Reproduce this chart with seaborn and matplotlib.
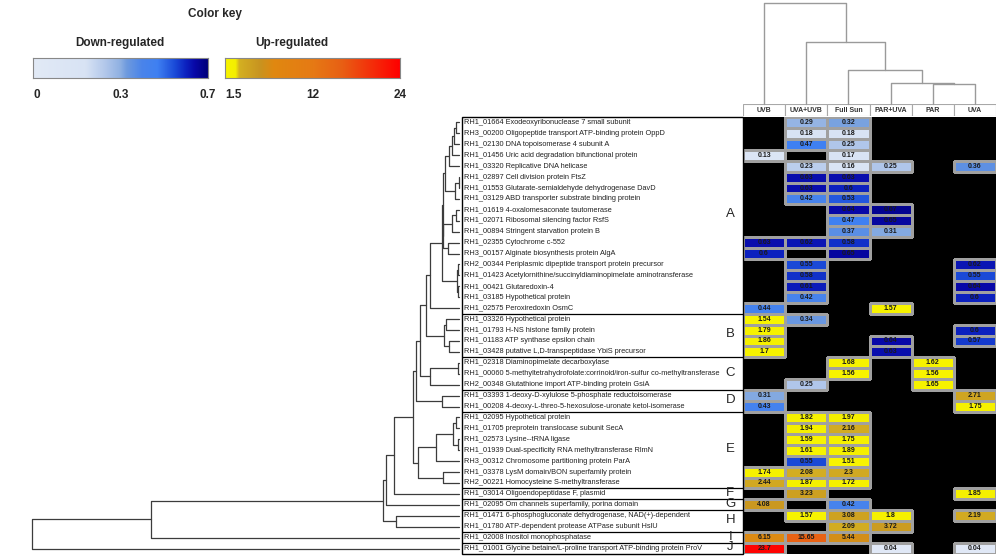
import numpy as np
import seaborn as sns
import matplotlib.pyplot as plt
from matplotlib.colors import LinearSegmentedColormap, to_rgba
from matplotlib.patches import Rectangle

nan = np.nan

conditions = ['UVB', 'UVA+UVB', 'Full Sun', 'PAR+UVA', 'PAR', 'UVA']

genes = [
    'RH1_01664 Exodeoxyribonuclease 7 small subunit',
    'RH3_00200 Oligopeptide transport ATP-binding protein OppD',
    'RH1_02130 DNA topoisomerase 4 subunit A',
    'RH1_01456 Uric acid degradation bifunctional protein',
    'RH1_03320 Replicative DNA helicase',
    'RH1_02897 Cell division protein FtsZ',
    'RH1_01553 Glutarate-semialdehyde dehydrogenase DavD',
    'RH1_03129 ABD transporter substrate binding protein',
    'RH1_01619 4-oxalomesaconate tautomerase',
    'RH1_02071 Ribosomal silencing factor RsfS',
    'RH1_00894 Stringent starvation protein B',
    'RH1_02355 Cytochrome c-552',
    'RH3_00157 Alginate biosynthesis protein AlgA',
    'RH2_00344 Periplasmic dipeptide transport protein precursor',
    'RH1_01423 Acetylornithine/succinyldiaminopimelate aminotransferase',
    'RH1_00421 Glutaredoxin-4',
    'RH1_03185 Hypothetical protein',
    'RH1_02575 Peroxiredoxin OsmC',
    'RH1_03326 Hypothetical protein',
    'RH1_01793 H-NS histone family protein',
    'RH1_01183 ATP synthase epsilon chain',
    'RH1_03428 putative L,D-transpeptidase YbiS precursor',
    'RH1_02318 Diaminopimelate decarboxylase',
    'RH1_00060 5-methyltetrahydrofolate:corrinoid/iron-sulfur co-methyltransferase',
    'RH2_00348 Glutathione import ATP-binding protein GsiA',
    'RH1_03393 1-deoxy-D-xylulose 5-phosphate reductoisomerase',
    'RH1_00208 4-deoxy-L-threo-5-hexosulose-uronate ketol-isomerase',
    'RH1_02095 Hypothetical protein',
    'RH1_01705 preprotein translocase subunit SecA',
    'RH1_02573 Lysine--tRNA ligase',
    'RH1_01939 Dual-specificity RNA methyltransferase RlmN',
    'RH3_00312 Chromosome partitioning protein ParA',
    'RH1_03378 LysM domain/BON superfamily protein',
    'RH2_00221 Homocysteine S-methyltransferase',
    'RH1_03014 Oligoendopeptidase F, plasmid',
    'RH1_02095 Om channels superfamily, porina domain',
    'RH1_01471 6-phosphogluconate dehydrogenase, NAD(+)-dependent',
    'RH1_01780 ATP-dependent protease ATPase subunit HslU',
    'RH1_02008 Inositol monophosphatase',
    'RH1_01001 Glycine betaine/L-proline transport ATP-binding protein ProV',
]

group_names = ['A', 'B', 'C', 'D', 'E', 'F', 'G', 'H', 'I', 'J']
group_sizes = [18, 4, 3, 2, 7, 1, 1, 2, 1, 1]

# fold change per condition, one entry per gene row (nan = not significant)
uvb = [nan, nan, nan, 0.13, nan, nan, nan, nan, nan, nan,
       nan, 0.63, 0.6, nan, nan, nan, nan, 0.44, 1.54, 1.79,
       1.86, 1.7, nan, nan, nan, 0.31, 0.43, nan, nan, nan,
       nan, nan, 1.74, 2.44, nan, 4.08, nan, nan, 6.15, 23.7]
uva_uvb = [0.29, 0.18, 0.47, nan, 0.23, 0.63, 0.63, 0.42, nan, nan,
           nan, 0.62, nan, 0.55, 0.58, 0.61, 0.42, nan, 0.34, nan,
           nan, nan, nan, nan, 0.25, nan, nan, 1.82, 1.94, 1.59,
           1.61, 0.55, 2.08, 1.87, 3.23, nan, 1.57, nan, 15.65, nan]
full_sun = [0.32, 0.18, 0.25, 0.17, 0.16, 0.63, 0.6, 0.53, 0.64, 0.47,
            0.37, 0.58, 0.65, nan, nan, nan, nan, nan, nan, nan,
            nan, nan, 1.68, 1.56, nan, nan, nan, 1.97, 2.16, 1.75,
            1.89, 1.51, 2.3, 1.72, nan, 0.42, 3.08, 2.09, 5.44, nan]
par_uva = [nan, nan, nan, nan, 0.25, nan, nan, nan, 0.67, 0.65,
           0.31, nan, nan, nan, nan, nan, nan, 1.57, nan, nan,
           0.64, 0.63, nan, nan, nan, nan, nan, nan, nan, nan,
           nan, nan, nan, nan, nan, nan, 1.8, 3.72, nan, 0.04]
par = [nan, nan, nan, nan, nan, nan, nan, nan, nan, nan,
       nan, nan, nan, nan, nan, nan, nan, nan, nan, nan,
       nan, nan, 1.62, 1.56, 1.65, nan, nan, nan, nan, nan,
       nan, nan, nan, nan, nan, nan, nan, nan, nan, nan]
uva = [nan, nan, nan, nan, 0.36, nan, nan, nan, nan, nan,
       nan, nan, nan, 0.62, 0.55, 0.64, 0.6, nan, nan, 0.6,
       0.57, nan, nan, nan, nan, 2.71, 1.75, nan, nan, nan,
       nan, nan, nan, nan, 1.85, nan, 2.19, nan, nan, 0.04]

# row dendrogram as (cluster a, cluster b, distance); leaves 0..39, merged clusters get ids from 40 on
row_linkage = [
    (0, 1, 0.03), (40, 2, 0.055), (41, 3, 0.08), (42, 4, 0.11),
    (5, 6, 0.005), (44, 7, 0.045), (43, 45, 0.15),
    (8, 9, 0.03), (47, 10, 0.08), (11, 12, 0.12), (48, 49, 0.17), (46, 50, 0.18),
    (13, 14, 0.01), (15, 16, 0.012), (52, 53, 0.02), (51, 54, 0.19), (55, 17, 0.32),
    (18, 19, 0.14), (20, 21, 0.11), (57, 58, 0.16), (56, 59, 0.36),
    (22, 23, 0.01), (61, 24, 0.32), (60, 62, 0.43),
    (25, 26, 0.19), (63, 64, 0.47),
    (27, 28, 0.035), (29, 30, 0.01), (66, 67, 0.07), (68, 31, 0.25), (32, 33, 0.18), (69, 70, 0.45),
    (65, 71, 0.505), (72, 34, 0.71), (73, 35, 0.80),
    (36, 37, 0.69), (74, 75, 0.83), (76, 38, 3.38), (77, 39, 4.68),
]
col_linkage = [(4, 5, 20), (3, 6, 21), (2, 7, 34), (1, 8, 62), (0, 9, 101)]

down_ticks = [0, 0.3, 0.7]
up_ticks = [1.5, 12, 24]

# colour scales (value -> colour), positions along the key from the tick values
down_nodes = [0, 0.18, 0.25, 0.3, 0.33, 0.4, 0.47, 0.55, 0.6, 0.64, 0.7]
down_colors = ['#e2eaf6', '#d8e3f4', '#b0c6ea', '#8eb0e2', '#6e9ade', '#4a84ea',
               '#3f80f2', '#1a4ad8', '#0c22c0', '#0808a8', '#00007a']
up_nodes = [1.5, 1.99, 2.05, 4.5, 6.5, 12, 16, 24]
up_colors = ['#f8f400', '#f4ee00', '#d4b022', '#c89420', '#e08810', '#e67a14', '#e86014', '#ff0000']


def down_index(v):
    return np.interp(v, down_ticks, [0, 0.5, 1])


def up_index(v):
    return np.interp(v, [1.5, 2.0, 2.1, 12, 24], [0, 0.06, 0.1, 0.5, 1])


down_cmap = LinearSegmentedColormap.from_list('down', list(zip(down_index(down_nodes), down_colors)), N=512)
up_cmap = LinearSegmentedColormap.from_list('up', list(zip(up_index(up_nodes), up_colors)), N=1024)

sns.set_style('white')
plt.rcParams['font.family'] = ['Liberation Sans', 'DejaVu Sans']

W, H = 1000, 558
fig = plt.figure(figsize=(W / 100, H / 100), dpi=100)


def px(x0, y0, x1, y1):
    """pixel box (from top left) -> figure fraction rect"""
    return [x0 / W, 1 - y1 / H, (x1 - x0) / W, (y1 - y0) / H]


def plot_dendrogram(ax, linkage, n_leaves, vertical=False, **kw):
    pos = [i + 0.5 for i in range(n_leaves)]
    hgt = [0.0] * n_leaves
    for a, b, h in linkage:
        hs = [hgt[a], h, h, hgt[b]]
        ps = [pos[a], pos[a], pos[b], pos[b]]
        if vertical:
            ax.plot(ps, hs, clip_on=False, **kw)
        else:
            ax.plot(hs, ps, clip_on=False, **kw)
        pos.append((pos[a] + pos[b]) / 2)
        hgt.append(h)


values = np.array([uvb, uva_uvb, full_sun, par_uva, par, uva]).T
annot = np.array([[f'{v:g}' if not np.isnan(v) else '' for v in row] for row in values])
is_down = values < 1
is_up = values >= 1

# heatmap: two layers (down / up regulated) on a black background
ax_hm = fig.add_axes(px(743, 117, 996, 554))
ax_hm.set_facecolor('black')
common = dict(annot=annot, fmt='', cbar=False, linewidths=0.8, linecolor='#a0a0a0',
              xticklabels=False, yticklabels=False, vmin=0, vmax=1, ax=ax_hm,
              annot_kws=dict(fontsize=5, fontweight='bold', color='#1a1a1a'))
for keep, cmap, to_index in [(is_down, down_cmap, down_index), (is_up, up_cmap, up_index)]:
    sns.heatmap(np.where(keep, to_index(values), nan), mask=~keep, cmap=cmap, **common)
    mesh = ax_hm.collections[-1]
    # only outline the coloured cells, black (empty) cells get no grid
    mesh.set_edgecolor([to_rgba('#a0a0a0') if k else (0, 0, 0, 0) for k in keep.ravel()])

# column header boxes
ax_head = fig.add_axes(px(743, 104, 996, 116))
ax_head.set_xlim(0, 6)
ax_head.set_ylim(0, 1)
for i, name in enumerate(conditions):
    ax_head.add_patch(Rectangle((i, 0), 1, 1, fc='white', ec='#a8a8a8', lw=0.8))
    ax_head.text(i + 0.5, 0.5, name, ha='center', va='center', fontsize=5, fontweight='bold', color='#333')
ax_head.axis('off')

# column dendrogram
ax_cd = fig.add_axes(px(743, 3, 996, 104))
plot_dendrogram(ax_cd, col_linkage, len(conditions), vertical=True, color='#9a9a9a', lw=1)
ax_cd.set_xlim(0, 6)
ax_cd.set_ylim(0, 101)
ax_cd.axis('off')

# row dendrogram
ax_rd = fig.add_axes(px(3, 117, 459, 554))
plot_dendrogram(ax_rd, row_linkage, len(genes), color='#3c3c3c', lw=0.9)
ax_rd.set_xlim(5, 0)
ax_rd.set_ylim(len(genes), 0)
ax_rd.set_xticks(range(6))
ax_rd.set_xticklabels([])
ax_rd.set_yticks([])
ax_rd.tick_params(axis='x', length=1.5, color='#999', direction='out')
sns.despine(ax=ax_rd, left=True, bottom=True)

# gene labels with group boxes
ax_lab = fig.add_axes(px(462, 117, 743, 554))
ax_lab.set_xlim(0, 1)
ax_lab.set_ylim(len(genes), 0)
for i, g in enumerate(genes):
    ax_lab.text(0.008, i + 0.5, g, va='center', ha='left', fontsize=5.3, color='#222')
start = 0
for name, size in zip(group_names, group_sizes):
    ax_lab.text(0.955, start + size / 2 - 0.1, name, ha='center', va='center', fontsize=9.5)
    if start > 0:
        ax_lab.axhline(start, color='black', lw=0.9)
    start += size
ax_lab.add_patch(Rectangle((0, 0), 1, len(genes), fill=False, ec='black', lw=1, clip_on=False))
ax_lab.axis('off')

# colour key
fig.text(215 / W, 1 - 14 / H, 'Color key', ha='center', va='center', fontsize=8.5, fontweight='bold')
fig.text(120 / W, 1 - 43 / H, 'Down-regulated', ha='center', va='center', fontsize=8.5, fontweight='bold')
fig.text(292 / W, 1 - 43 / H, 'Up-regulated', ha='center', va='center', fontsize=8.5, fontweight='bold')


def key_bar(rect, cmap, ticks, to_index):
    ax = fig.add_axes(px(*rect))
    ax.imshow(np.linspace(0, 1, 256)[None, :], cmap=cmap, aspect='auto', extent=(0, 1, 0, 1))
    ax.set_xticks(to_index(np.array(ticks)))
    ax.set_xticklabels([f'{t:g}' for t in ticks], fontsize=8.5, fontweight='bold')
    ax.set_yticks([])
    ax.tick_params(axis='x', length=4, width=1, color='#666', pad=4)
    for s in ax.spines.values():
        s.set_color('#888')
    ax.get_xticklabels()[0].set_ha('left')


key_bar((33, 58, 208, 78), down_cmap, down_ticks, down_index)
key_bar((225, 58, 400, 78), up_cmap, up_ticks, up_index)

fig.savefig('out.png', dpi=100)
